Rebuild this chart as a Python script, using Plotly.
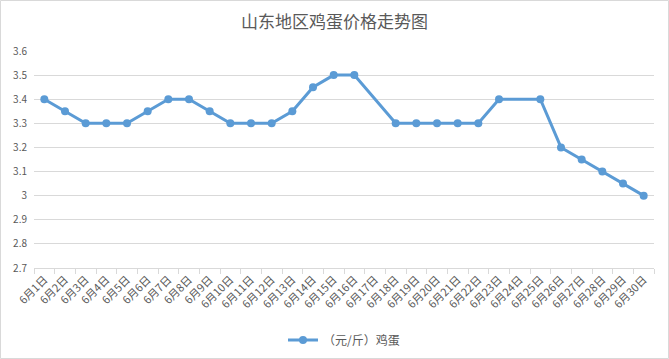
import plotly.graph_objects as go

days = [f"6月{i}日" for i in range(1, 31)]
prices = [3.40, 3.35, 3.30, 3.30, 3.30, 3.35, 3.40, 3.40, 3.35, 3.30,
          3.30, 3.30, 3.35, 3.45, 3.50, 3.50, None, 3.30, 3.30, 3.30,
          3.30, 3.30, 3.40, None, 3.40, 3.20, 3.15, 3.10, 3.05, 3.00]
series_name = "（元/斤）鸡蛋"
title = "山东地区鸡蛋价格走势图"

W, H = 669, 359
ml, mr, mt, mb = 34, 15, 51, 91
pw, ph = W - ml - mr, H - mt - mb

fig = go.Figure()
fig.add_trace(go.Scatter(
    x=days, y=prices, name=series_name, mode="lines+markers",
    connectgaps=True,
    line=dict(color="#5B9BD5", width=3),
    marker=dict(color="#5B9BD5", size=8),
    showlegend=True,
))

font_family = "Noto Sans CJK SC, Microsoft YaHei, sans-serif"
fig.update_layout(
    width=W, height=H,
    margin=dict(l=ml, r=mr, t=mt, b=mb, autoexpand=False),
    paper_bgcolor="white", plot_bgcolor="white",
    font=dict(family=font_family, color="#595959", size=10),
    title=dict(text=title, x=0.5, xanchor="center", y=1 - 22 / H, yanchor="middle",
               font=dict(size=17, color="#595959", family=font_family)),
    showlegend=True,
    legend=dict(orientation="h", x=0.5, xanchor="center", yref="container",
                y=1 - 340 / H, yanchor="middle", font=dict(size=12, color="#595959")),
    xaxis=dict(
        type="category", tickangle=-45, showgrid=False, automargin=False,
        showline=True, linecolor="#d9d9d9", linewidth=1,
        ticks="outside", tickson="boundaries", ticklen=5, tickcolor="#d9d9d9",
        tickfont=dict(size=11, color="#595959"),
        range=[-0.5, 29.5],
    ),
    yaxis=dict(
        range=[2.7, 3.6], dtick=0.1, tick0=2.7, automargin=False,
        showgrid=True, gridcolor="#d9d9d9", gridwidth=1,
        zeroline=False, showline=False, ticks="",
        tickfont=dict(size=10, color="#595959"),
        ticklabelstandoff=6,
    ),
    shapes=[dict(type="rect", xref="paper", yref="paper",
                 x0=(0.5 - ml) / pw, x1=(W - 0.5 - ml) / pw,
                 y0=-(H - 0.5 - mt - ph) / ph, y1=1 + (mt - 0.5) / ph,
                 line=dict(color="#d9d9d9", width=1), layer="below")],
)

fig.write_html("out.html", config={"displayModeBar": False},
               post_script="document.body.style.margin='0';")
